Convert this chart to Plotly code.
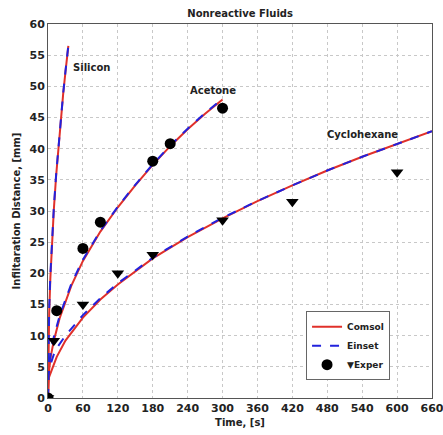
import plotly.graph_objects as go

# Silicon
t_si = [0, 0.5, 1, 2, 4, 7, 10, 14, 18, 22, 26, 30, 35]
si_comsol = [0, 6.8, 9.6, 13.5, 19.1, 25.3, 30.2, 35.7, 40.5, 44.8, 48.7, 52.3, 56.5]
si_einset = [0, 7.6, 10.4, 14.3, 19.7, 25.7, 30.5, 35.9, 40.6, 44.9, 48.8, 52.4, 56.6]

# Acetone
t_ac = [0, 0.5, 2, 5, 10, 20, 40, 60, 90, 120, 150, 180, 210, 240, 270, 300]
ac_comsol = [0, 3.2, 4.6, 6.8, 9.2, 12.8, 18.0, 22.0, 26.7, 30.6, 34.1, 37.4, 40.4, 43.1, 45.6, 47.9]
ac_einset = [0, 4.2, 5.4, 7.5, 9.8, 13.2, 18.3, 22.2, 26.8, 30.7, 34.2, 37.5, 40.5, 43.2, 45.7, 48.0]
ac_exp_t = [0, 15, 60, 90, 180, 210, 300]
ac_exp = [0, 14.0, 24.0, 28.2, 38.0, 40.8, 46.5]

# Cyclohexane
t_cy = [0, 0.5, 2, 5, 10, 15, 30, 60, 90, 120, 180, 240, 300, 360, 420, 480, 540, 600, 660]
cy_comsol = [0, 2.8, 3.4, 4.2, 5.4, 6.6, 9.2, 12.9, 15.8, 18.2, 22.4, 25.8, 28.8, 31.6, 34.1, 36.5, 38.7, 40.8, 42.8]
cy_einset = [0, 3.6, 4.4, 5.6, 7.0, 8.0, 10.0, 13.3, 16.0, 18.4, 22.5, 25.9, 28.9, 31.6, 34.1, 36.5, 38.7, 40.8, 42.8]
cy_exp_t = [0, 10, 60, 120, 180, 300, 420, 600]
cy_exp = [0, 9.2, 15.0, 20.0, 23.0, 28.5, 31.5, 36.2]

x_ticks = list(range(0, 661, 60))
y_ticks = list(range(0, 61, 5))

RED = "#e0302a"
BLUE = "#2222dd"
FONT = "DejaVu Sans"

fig = go.Figure()
curves = [(t_si, si_comsol, si_einset), (t_ac, ac_comsol, ac_einset), (t_cy, cy_comsol, cy_einset)]
for i, (t, c, e) in enumerate(curves):
    fig.add_trace(go.Scatter(x=t, y=c, mode="lines", line=dict(color=RED, width=2),
                             name="<b>Comsol</b>", showlegend=(i == 0), legendrank=1))
for i, (t, c, e) in enumerate(curves):
    fig.add_trace(go.Scatter(x=t, y=e, mode="lines", line=dict(color=BLUE, width=2, dash="dash"),
                             name="<b>Einset</b>", showlegend=(i == 0), legendrank=2))

fig.add_trace(go.Scatter(x=ac_exp_t, y=ac_exp, mode="markers",
                         marker=dict(symbol="circle", size=11, color="black"),
                         name="<b>▼Exper</b>", legendrank=3))
fig.add_trace(go.Scatter(x=cy_exp_t, y=cy_exp, mode="markers",
                         marker=dict(symbol="triangle-down", size=11, color="black"),
                         name="Exper2", showlegend=False))

labels = [("Silicon", 75, 53.0), ("Acetone", 283, 49.3), ("Cyclohexane", 540, 42.2)]
for txt, x, y in labels:
    fig.add_annotation(x=x, y=y, text=f"<b>{txt}</b>", showarrow=False,
                       font=dict(family=FONT, size=10, color="#222"))

axis_common = dict(showline=True, linecolor="#555", linewidth=1, mirror=True,
                   showgrid=True, gridcolor="#c8c8c8", griddash="dot", gridwidth=1,
                   zeroline=False, ticks="", automargin=False, ticklabeloverflow="allow",
                   tickfont=dict(family=FONT, size=11, color="#222"))

fig.update_xaxes(range=[0, 660], tickvals=x_ticks, ticktext=[f"<b>{v}</b>" for v in x_ticks],
                 title=dict(text="<b>Time, [s]</b>", font=dict(family=FONT, size=10, color="#222"), standoff=4),
                 **axis_common)
fig.update_yaxes(range=[0, 60], tickvals=y_ticks, ticktext=[f"<b>{v}</b>" for v in y_ticks],
                 title=dict(text="<b>Infiltaration Distance, [mm]</b>", font=dict(family=FONT, size=10, color="#222"), standoff=6),
                 **axis_common)

fig.update_layout(
    width=443, height=435,
    margin=dict(l=48, r=11, t=24, b=37),
    paper_bgcolor="white", plot_bgcolor="white",
    title=dict(text="<b>Nonreactive Fluids</b>", x=0.542, xanchor="center", y=0.97, yanchor="middle",
               font=dict(family=FONT, size=10, color="#222")),
    legend=dict(x=0.672, y=0.232, xanchor="left", yanchor="top",
                bordercolor="#666", borderwidth=1, bgcolor="white",
                font=dict(family=FONT, size=9, color="#222"),
                tracegroupgap=0, itemwidth=30),
    showlegend=True,
)

fig.write_html("out.html")
